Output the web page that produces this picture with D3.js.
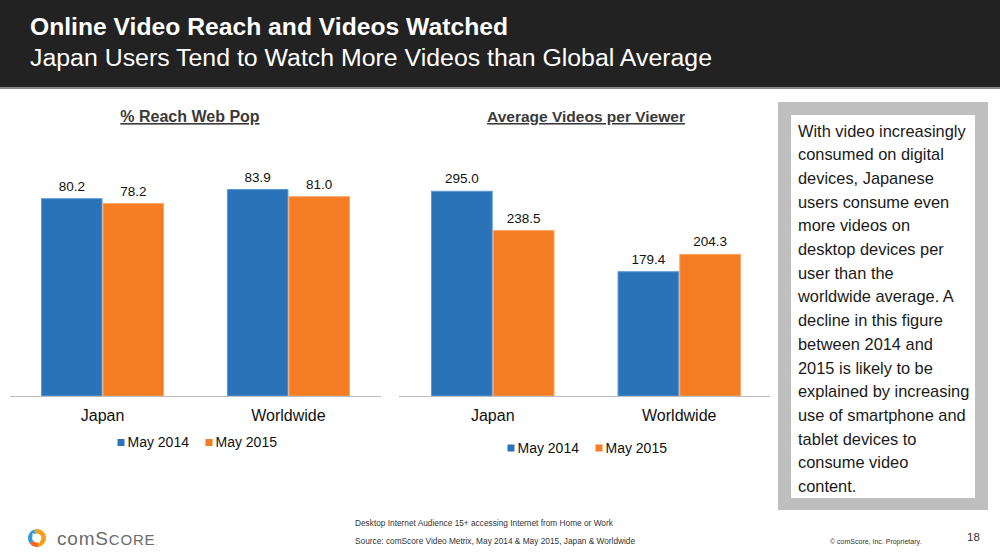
<!DOCTYPE html>
<html lang='en'>
<head>
    <meta charset='UTF-8'>
    <title>Online Video Reach and Videos Watched</title>
    <style>
        body { margin: 0; background: #fff; }
        svg { display: block; font-family: 'Liberation Sans', Arial, sans-serif; }
    </style>
</head>
<body>
    <div id='anchor'></div>
    <script src='https://cdnjs.cloudflare.com/ajax/libs/d3/7.8.5/d3.min.js'></script>
    <script>
        // chart data
        const categories = ['Japan', 'Worldwide'];
        const seriesNames = ['May 2014', 'May 2015'];
        const reachValues = [[80.2, 78.2], [83.9, 81.0]];      // per category: [2014, 2015]
        const videosValues = [[295.0, 238.5], [179.4, 204.3]];
        const colors = ['#2a73b9', '#f47c22'];
        const strokes = ['#5d9bd6', '#f9a766'];

        const sideText = [
            'With video increasingly',
            'consumed on digital',
            'devices, Japanese',
            'users consume even',
            'more videos on',
            'desktop devices per',
            'user than the',
            'worldwide average. A',
            'decline in this figure',
            'between 2014 and',
            '2015 is likely to be',
            'explained by increasing',
            'use of smartphone and',
            'tablet devices to',
            'consume video',
            'content.'
        ];

        const svg = d3.select('#anchor').append('svg')
            .attr('width', 1000)
            .attr('height', 557);

        // header band
        svg.append('rect').attr('x', 0).attr('y', 0).attr('width', 1000).attr('height', 87).attr('fill', '#222');
        svg.append('rect').attr('x', 0).attr('y', 87).attr('width', 1000).attr('height', 2).attr('fill', '#8a8a8a');
        svg.append('text').attr('x', 30).attr('y', 35)
            .attr('fill', '#fff').attr('font-size', 23).attr('font-weight', 'bold')
            .attr('textLength', 478).attr('lengthAdjust', 'spacingAndGlyphs')
            .text('Online Video Reach and Videos Watched');
        svg.append('text').attr('x', 30).attr('y', 66)
            .attr('fill', '#fff').attr('font-size', 23)
            .attr('textLength', 682).attr('lengthAdjust', 'spacingAndGlyphs')
            .text('Japan Users Tend to Watch More Videos than Global Average');

        function drawChart(opts) {
            const g = svg.append('g');
            const baseY = 396;

            const x = d3.scaleBand().domain(categories).range(opts.xRange).paddingInner(0.338).paddingOuter(0);
            const xs = d3.scaleBand().domain(seriesNames).range([0, x.bandwidth()]).padding(0);
            const y = d3.scaleLinear().domain(opts.yDomain).range([baseY, baseY - opts.yHeight]);

            // title
            g.append('text')
                .attr('x', opts.titleX).attr('y', 122)
                .attr('text-anchor', 'middle')
                .attr('font-size', opts.titleSize).attr('font-weight', 'bold')
                .attr('fill', '#3a3a3a')
                .attr('text-decoration', 'underline')
                .text(opts.title);

            const groups = g.selectAll('g.cat')
                .data(categories)
                .join('g')
                .attr('class', 'cat')
                .attr('transform', d => `translate(${x(d)},0)`);

            groups.selectAll('rect')
                .data((d, i) => opts.values[i].map((v, j) => ({ v: v, s: seriesNames[j], j: j })))
                .join('rect')
                .attr('x', d => xs(d.s) + 0.5)
                .attr('width', xs.bandwidth() - 1)
                .attr('y', d => y(d.v) + 0.5)
                .attr('height', d => baseY - y(d.v) - 0.5)
                .attr('fill', d => colors[d.j])
                .attr('stroke', d => strokes[d.j])
                .attr('stroke-width', 1);

            groups.selectAll('text.val')
                .data((d, i) => opts.values[i].map((v, j) => ({ v: v, s: seriesNames[j] })))
                .join('text')
                .attr('class', 'val')
                .attr('x', d => xs(d.s) + xs.bandwidth() / 2)
                .attr('y', d => y(d.v) - 7.5)
                .attr('text-anchor', 'middle')
                .attr('font-size', 13.5)
                .attr('fill', '#111')
                .text(d => d3.format('.1f')(d.v));

            // baseline
            g.append('line')
                .attr('x1', opts.axisX[0]).attr('x2', opts.axisX[1])
                .attr('y1', baseY + 0.5).attr('y2', baseY + 0.5)
                .attr('stroke', '#bdbdbd').attr('stroke-width', 1.2);

            // category axis
            const axis = g.append('g')
                .attr('transform', `translate(0,${baseY})`)
                .call(d3.axisBottom(x).tickSize(0).tickPadding(14));
            axis.select('.domain').remove();
            axis.selectAll('text')
                .attr('font-size', 16)
                .attr('font-family', "'Liberation Sans', Arial, sans-serif")
                .attr('fill', '#111');

            // legend
            const leg = g.append('g').attr('transform', `translate(${opts.legendX},${opts.legendY})`);
            const item = leg.selectAll('g')
                .data(seriesNames)
                .join('g')
                .attr('transform', (d, i) => `translate(${i * 88},0)`);
            item.append('rect')
                .attr('x', 0).attr('y', -8)
                .attr('width', 7).attr('height', 7)
                .attr('fill', (d, i) => colors[i]);
            item.append('text')
                .attr('x', 10).attr('y', 0)
                .attr('font-size', 14)
                .attr('fill', '#111')
                .text(d => d);
        }

        drawChart({
            title: '% Reach Web Pop', titleX: 190, titleSize: 16,
            values: reachValues, yDomain: [0, 100], yHeight: 246.7,
            xRange: [41, 350], axisX: [10, 381],
            legendX: 117.5, legendY: 447
        });

        drawChart({
            title: 'Average Videos per Viewer', titleX: 586, titleSize: 15.5,
            values: videosValues, yDomain: [0, 350], yHeight: 243.5,
            xRange: [431, 741], axisX: [399, 770],
            legendX: 507.5, legendY: 452.5
        });

        // side note box
        svg.append('rect').attr('x', 778).attr('y', 102).attr('width', 210).attr('height', 408).attr('fill', '#bfbfbf');
        svg.append('rect').attr('x', 791).attr('y', 115).attr('width', 184).attr('height', 383).attr('fill', '#fff');
        svg.append('text')
            .attr('x', 798).attr('y', 136.5)
            .attr('font-size', 16.4).attr('fill', '#1a1a1a')
            .selectAll('tspan')
            .data(sideText)
            .join('tspan')
            .attr('x', 798)
            .attr('dy', (d, i) => i === 0 ? 0 : 23.7)
            .text(d => d);

        // footer
        const foot = svg.append('g').attr('fill', '#333');
        foot.append('text').attr('x', 355).attr('y', 526).attr('font-size', 8.3)
            .text('Desktop Internet Audience 15+ accessing Internet from Home or Work');
        foot.append('text').attr('x', 355).attr('y', 544).attr('font-size', 8.3)
            .text('Source: comScore Video Metrix, May 2014 & May 2015, Japan & Worldwide');
        foot.append('text').attr('x', 830).attr('y', 544).attr('font-size', 7)
            .text('\u00a9 comScore, Inc. Proprietary.');
        foot.append('text').attr('x', 967).attr('y', 541).attr('font-size', 11.5)
            .text('18');

        // comScore logo
        const logo = svg.append('g').attr('transform', 'translate(37,538)');
        const arc = d3.arc().innerRadius(4.5).outerRadius(9);
        const logoParts = [
            { a0: -0.1 * Math.PI, a1: 0.95 * Math.PI, c: '#f6a01a' },
            { a0: 0.95 * Math.PI, a1: 1.3 * Math.PI, c: '#f26522' },
            { a0: 1.3 * Math.PI, a1: 1.9 * Math.PI, c: '#2f9bd6' }
        ];
        logo.selectAll('path')
            .data(logoParts)
            .join('path')
            .attr('d', d => arc({ startAngle: d.a0, endAngle: d.a1 }))
            .attr('fill', d => d.c);
        logo.append('path')
            .attr('d', 'M-4.5,-5 L3,-2 L3,5 L-4.5,2 Z')
            .attr('fill', '#fff');
        const brand = svg.append('text')
            .attr('x', 57).attr('y', 545)
            .attr('letter-spacing', 0.8)
            .attr('fill', '#6b6b6b').attr('font-family', "'Liberation Sans', Arial, sans-serif");
        brand.append('tspan').attr('font-size', 19).text('com');
        brand.append('tspan').attr('font-size', 19).text('S');
        brand.append('tspan').attr('font-size', 15).text('CORE');
        brand.append('tspan').attr('font-size', 6).text('.');
    </script>
</body>
</html>
